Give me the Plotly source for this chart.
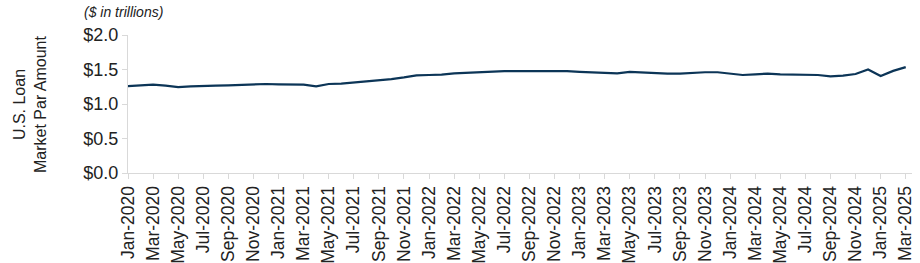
import plotly.graph_objects as go

months = ["Jan-2020","Feb-2020","Mar-2020","Apr-2020","May-2020","Jun-2020","Jul-2020","Aug-2020","Sep-2020","Oct-2020","Nov-2020","Dec-2020",
          "Jan-2021","Feb-2021","Mar-2021","Apr-2021","May-2021","Jun-2021","Jul-2021","Aug-2021","Sep-2021","Oct-2021","Nov-2021","Dec-2021",
          "Jan-2022","Feb-2022","Mar-2022","Apr-2022","May-2022","Jun-2022","Jul-2022","Aug-2022","Sep-2022","Oct-2022","Nov-2022","Dec-2022",
          "Jan-2023","Feb-2023","Mar-2023","Apr-2023","May-2023","Jun-2023","Jul-2023","Aug-2023","Sep-2023","Oct-2023","Nov-2023","Dec-2023",
          "Jan-2024","Feb-2024","Mar-2024","Apr-2024","May-2024","Jun-2024","Jul-2024","Aug-2024","Sep-2024","Oct-2024","Nov-2024","Dec-2024",
          "Jan-2025","Feb-2025","Mar-2025"]

par_amount = [1.26,1.265,1.28,1.265,1.245,1.255,1.265,1.265,1.27,1.275,1.29,1.29,
              1.285,1.285,1.28,1.255,1.29,1.295,1.31,1.33,1.35,1.36,1.385,1.415,
              1.42,1.425,1.445,1.455,1.46,1.47,1.475,1.475,1.475,1.48,1.475,1.475,
              1.465,1.46,1.46,1.445,1.465,1.455,1.44,1.44,1.44,1.455,1.46,1.46,
              1.445,1.42,1.43,1.44,1.43,1.43,1.42,1.42,1.40,1.41,1.435,1.50,
              1.405,1.48,1.535]

tick_labels = months[::2]
y_ticks = [0.0, 0.5, 1.0, 1.5, 2.0]
y_tick_labels = ["$0.0", "$0.5", "$1.0", "$1.5", "$2.0"]

idx = list(range(len(months)))

fig = go.Figure()
fig.add_trace(go.Scatter(
    x=idx, y=par_amount, mode="lines",
    line=dict(color="#0c3557", width=2.2),
    hoverinfo="skip", showlegend=False,
))

fig.update_layout(
    width=920, height=263,
    margin=dict(l=128, r=8, t=35, b=90, autoexpand=False),
    paper_bgcolor="white", plot_bgcolor="white",
    font=dict(family="Liberation Sans, Arial, sans-serif", size=15, color="#222222"),
    xaxis=dict(
        range=[0, 62.5], automargin=False,
        tickmode="array", tickvals=idx[::2], ticktext=tick_labels,
        tickangle=-90, ticks="outside", ticklen=5, tickcolor="#d9d9d9",
        showline=True, linecolor="#d9d9d9", linewidth=1,
        showgrid=False, zeroline=False,
        tickfont=dict(size=17.5),
    ),
    yaxis=dict(
        range=[0, 2.0], automargin=False,
        tickmode="array", tickvals=y_ticks, ticktext=y_tick_labels,
        ticks="outside", ticklen=5, tickcolor="#d9d9d9",
        showline=True, linecolor="#d9d9d9", linewidth=1,
        showgrid=False, zeroline=False,
        tickfont=dict(size=18),
    ),
    annotations=[
        dict(text="U.S. Loan<br>Market Par Amount", textangle=-90,
             xref="paper", yref="paper", x=(30 - 128) / 784, y=0.5,
             xanchor="center", yanchor="middle", showarrow=False,
             font=dict(size=16, color="#222222")),
        dict(text="<i>($ in trillions)</i>",
             xref="paper", yref="paper", x=(82 - 128) / 784, y=(138 + 35 - 12) / 138,
             xanchor="left", yanchor="middle", showarrow=False,
             font=dict(size=14, color="#222222")),
    ],
)

fig.write_html("out.html")
